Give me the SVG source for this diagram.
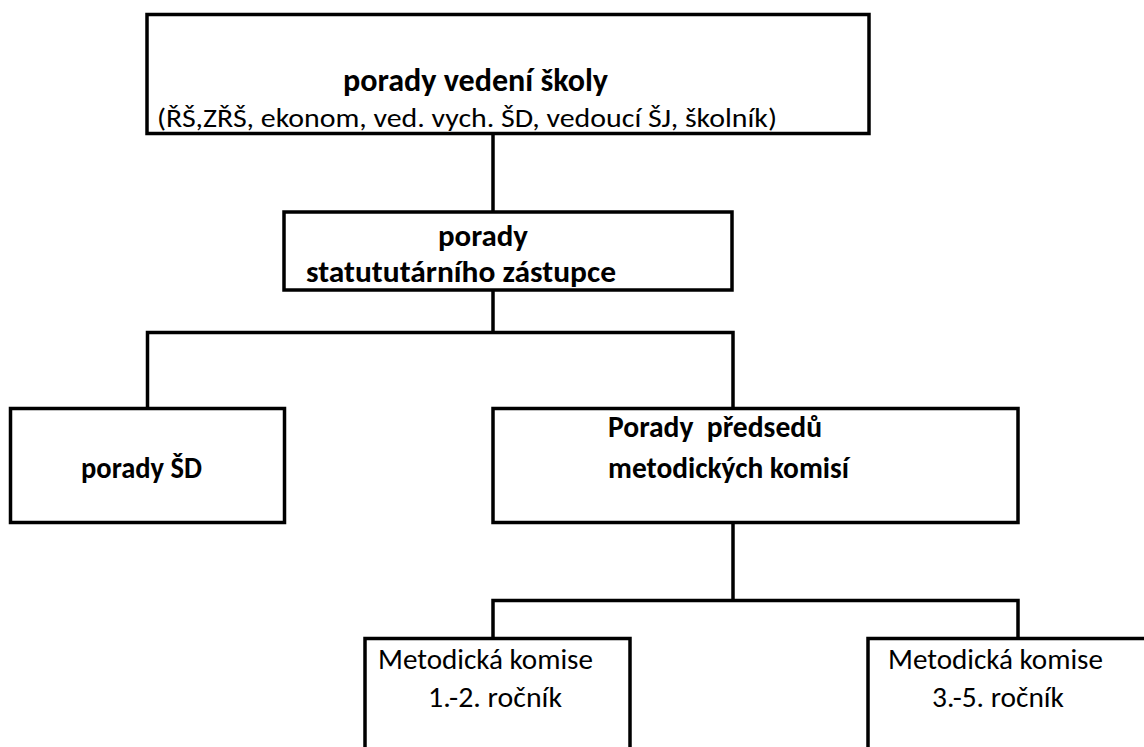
<svg xmlns="http://www.w3.org/2000/svg" width="1144" height="747" viewBox="0 0 1144 747">
<style>
.box{fill:#fff;stroke:#000;stroke-width:3.5}
.conn{fill:none;stroke:#000;stroke-width:3.5}
.b{font-family:Carlito,Calibri,Lato,"Liberation Sans",sans-serif;font-weight:bold;font-size:30px;fill:#000}
.r{font-family:Carlito,Calibri,Lato,"Liberation Sans",sans-serif;font-size:29px;fill:#000}
.t{font-size:32px}
.p{font-size:26px}
</style>
<rect width="1144" height="747" fill="#fff"/>
<g id="connectors">
<path class="conn" d="M493 134V212"/>
<path class="conn" d="M493 290V334"/>
<path class="conn" d="M147.5 408V332.5H733V408"/>
<path class="conn" d="M733 523V600.5"/>
<path class="conn" d="M493 638V600.5H1018V638"/>
</g>
<g id="node-vedeni">
<rect class="box" x="147" y="14.5" width="722" height="119"/>
<text class="b t" x="343" y="91" textLength="265" lengthAdjust="spacingAndGlyphs">porady vedení školy</text>
<text class="r p" x="157" y="127" textLength="620" lengthAdjust="spacingAndGlyphs">(ŘŠ,ZŘŠ, ekonom, ved. vych. ŠD, vedoucí ŠJ, školník)</text>
</g>
<g id="node-statutar">
<rect class="box" x="284" y="212" width="448" height="78"/>
<text class="b" x="438" y="246" textLength="90" lengthAdjust="spacingAndGlyphs">porady</text>
<text class="b" x="306" y="282" textLength="310" lengthAdjust="spacingAndGlyphs">statututárního zástupce</text>
</g>
<g id="node-sd">
<rect class="box" x="10.5" y="408.5" width="274" height="114"/>
<text class="b" x="81" y="478" textLength="121" lengthAdjust="spacingAndGlyphs">porady ŠD</text>
</g>
<g id="node-predsedu">
<rect class="box" x="493" y="408.5" width="525" height="114"/>
<text class="b" x="608" y="437" xml:space="preserve" textLength="214" lengthAdjust="spacingAndGlyphs">Porady  předsedů</text>
<text class="b" x="608" y="478" textLength="241" lengthAdjust="spacingAndGlyphs">metodických komisí</text>
</g>
<g id="node-mk12">
<rect class="box" x="365" y="638.5" width="265" height="130"/>
<text class="r" x="378" y="669" textLength="215" lengthAdjust="spacingAndGlyphs">Metodická komise</text>
<text class="r" x="428" y="707" textLength="134" lengthAdjust="spacingAndGlyphs">1.-2. ročník</text>
</g>
<g id="node-mk35">
<rect class="box" x="868" y="638.5" width="300" height="130"/>
<text class="r" x="888" y="669" textLength="215" lengthAdjust="spacingAndGlyphs">Metodická komise</text>
<text class="r" x="932" y="707" textLength="132" lengthAdjust="spacingAndGlyphs">3.-5. ročník</text>
</g>
</svg>
